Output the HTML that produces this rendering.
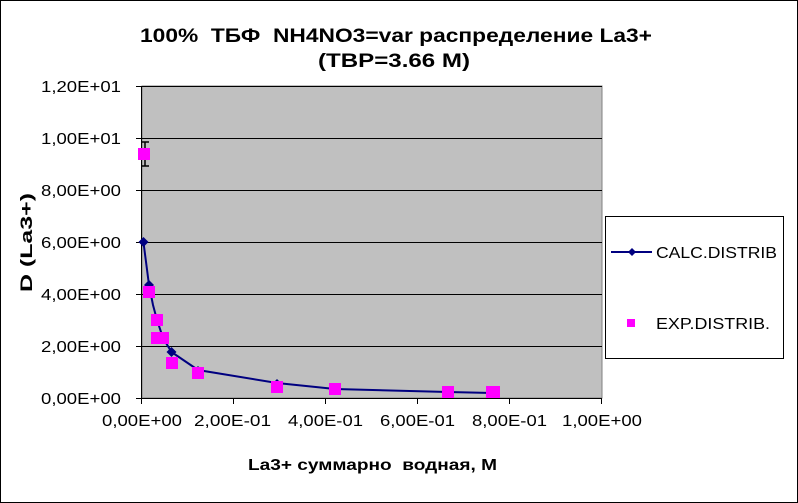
<!DOCTYPE html>
<html><head><style>
body{margin:0;background:#fff;}
svg{display:block;font-family:"Liberation Sans",Arial,sans-serif;}
</style></head><body>
<svg width="798" height="503" xmlns="http://www.w3.org/2000/svg">
<rect x="0.5" y="0.5" width="797" height="502" fill="#fff" stroke="#000"/>
<text x="140" y="42" font-size="19" font-weight="bold" textLength="512" lengthAdjust="spacingAndGlyphs" xml:space="preserve">100%  ТБФ  NH4NO3=var распределение La3+</text>
<text x="318" y="67" font-size="19" font-weight="bold" textLength="152" lengthAdjust="spacingAndGlyphs">(TBP=3.66 M)</text>
<rect x="142" y="86" width="460" height="312" fill="#c0c0c0" stroke="#808080"/>
<g stroke="#000" stroke-width="1">
<line x1="142" y1="86.5" x2="602" y2="86.5"/>
<line x1="142" y1="138.5" x2="602" y2="138.5"/>
<line x1="142" y1="190.5" x2="602" y2="190.5"/>
<line x1="142" y1="242.5" x2="602" y2="242.5"/>
<line x1="142" y1="294.5" x2="602" y2="294.5"/>
<line x1="142" y1="346.5" x2="602" y2="346.5"/>
<line x1="141.5" y1="86" x2="141.5" y2="398"/>
<line x1="142" y1="398.5" x2="602" y2="398.5"/>
<line x1="136" y1="86.5" x2="142" y2="86.5"/><line x1="136" y1="138.5" x2="142" y2="138.5"/><line x1="136" y1="190.5" x2="142" y2="190.5"/><line x1="136" y1="242.5" x2="142" y2="242.5"/><line x1="136" y1="294.5" x2="142" y2="294.5"/><line x1="136" y1="346.5" x2="142" y2="346.5"/><line x1="136" y1="398.5" x2="142" y2="398.5"/>
<line x1="141.5" y1="398" x2="141.5" y2="404"/><line x1="233.5" y1="398" x2="233.5" y2="404"/><line x1="325.5" y1="398" x2="325.5" y2="404"/><line x1="417.5" y1="398" x2="417.5" y2="404"/><line x1="509.5" y1="398" x2="509.5" y2="404"/><line x1="601.5" y1="398" x2="601.5" y2="404"/>
</g>
<g font-size="16">
<text x="41" y="92" textLength="80" lengthAdjust="spacingAndGlyphs">1,20E+01</text>
<text x="41" y="144" textLength="80" lengthAdjust="spacingAndGlyphs">1,00E+01</text>
<text x="41" y="196" textLength="80" lengthAdjust="spacingAndGlyphs">8,00E+00</text>
<text x="41" y="248" textLength="80" lengthAdjust="spacingAndGlyphs">6,00E+00</text>
<text x="41" y="300" textLength="80" lengthAdjust="spacingAndGlyphs">4,00E+00</text>
<text x="41" y="352" textLength="80" lengthAdjust="spacingAndGlyphs">2,00E+00</text>
<text x="41" y="404" textLength="80" lengthAdjust="spacingAndGlyphs">0,00E+00</text>
</g>
<g font-size="16">
<text x="102" y="426" textLength="80" lengthAdjust="spacingAndGlyphs">0,00E+00</text>
<text x="194" y="426" textLength="77" lengthAdjust="spacingAndGlyphs">2,00E-01</text>
<text x="288" y="426" textLength="75" lengthAdjust="spacingAndGlyphs">4,00E-01</text>
<text x="380" y="426" textLength="75" lengthAdjust="spacingAndGlyphs">6,00E-01</text>
<text x="472" y="426" textLength="75" lengthAdjust="spacingAndGlyphs">8,00E-01</text>
<text x="562" y="426" textLength="80" lengthAdjust="spacingAndGlyphs">1,00E+00</text>
</g>
<text x="248" y="470" font-size="16" font-weight="bold" textLength="249" lengthAdjust="spacingAndGlyphs" xml:space="preserve">La3+ суммарно  водная, М</text>
<text transform="translate(32,292) rotate(-90)" font-size="17" font-weight="bold" textLength="99" lengthAdjust="spacingAndGlyphs">D (La3+)</text>
<g stroke="#000" stroke-width="1.5"><line x1="145" y1="142" x2="145" y2="166"/><line x1="141" y1="142" x2="149" y2="142"/><line x1="141" y1="166" x2="149" y2="166"/></g>
<polyline fill="none" stroke="#000080" stroke-width="2" points="143.5,242.5 149,285 153,305 157,320 163,338 171.5,352 198,370 277,383 335,389 448,392 492,393"/>
<g fill="#000080">
<path d="M143.5,237 l5,5 l-5,5 l-5,-5z"/><path d="M149,280 l5,5 l-5,5 l-5,-5z"/><path d="M171.5,347 l5,5 l-5,5 l-5,-5z"/><path d="M198,366 l5,5 l-5,5 l-5,-5z"/><path d="M277,379 l5,5 l-5,5 l-5,-5z"/>
</g>
<g fill="#ff00ff">
<rect x="138" y="148" width="12" height="12"/>
<rect x="143" y="286" width="12" height="12"/>
<rect x="151" y="314" width="12" height="12"/>
<rect x="151" y="332" width="12" height="12"/>
<rect x="157" y="332" width="12" height="12"/>
<rect x="166" y="357" width="12" height="12"/>
<rect x="192" y="367" width="12" height="12"/>
<rect x="271" y="381" width="12" height="12"/>
<rect x="329" y="383" width="12" height="12"/>
<rect x="442" y="386" width="12" height="12"/>
<rect x="486" y="386" width="14" height="12"/>
</g>
<rect x="605.5" y="216.5" width="178" height="142" fill="#fff" stroke="#000"/>
<line x1="611" y1="252" x2="652" y2="252" stroke="#000080" stroke-width="2"/>
<path d="M632,248 l4,4 l-4,4 l-4,-4z" fill="#000080"/>
<text x="656" y="258" font-size="16" textLength="121" lengthAdjust="spacingAndGlyphs">CALC.DISTRIB</text>
<rect x="627" y="319" width="8" height="8" fill="#ff00ff"/>
<text x="656" y="329" font-size="16" textLength="114" lengthAdjust="spacingAndGlyphs">EXP.DISTRIB.</text>
</svg>
</body></html>
